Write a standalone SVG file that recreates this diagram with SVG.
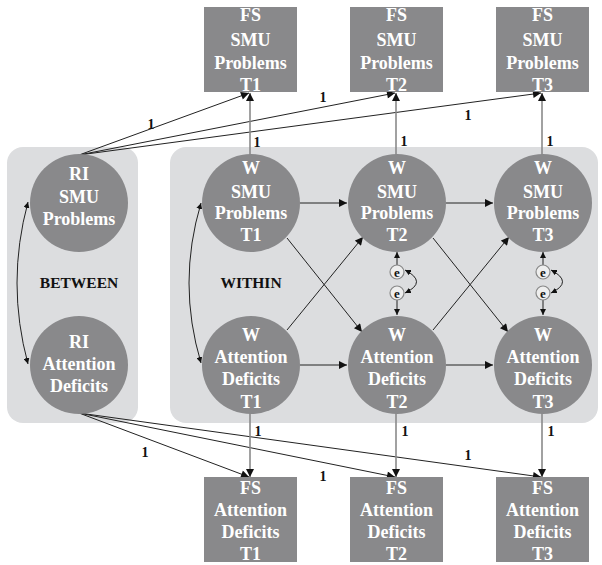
<svg xmlns="http://www.w3.org/2000/svg" width="602" height="565" viewBox="0 0 602 565">
<style>
.panel{fill:#dcdddf}
.node{fill:#89898b}
.t{font-family:"Liberation Serif",serif;font-weight:bold;font-size:18px;fill:#fff;text-anchor:middle}
.lab{font-family:"Liberation Serif",serif;font-weight:bold;font-size:14px;fill:#111;text-anchor:middle}
.big{font-family:"Liberation Serif",serif;font-weight:bold;font-size:15.5px;fill:#111;text-anchor:middle}
.c{fill:none;stroke:#222;stroke-width:1}
.g{fill:none;stroke:#8a8a8a;stroke-width:1.6}
.e{fill:#eeeeee;stroke:#888;stroke-width:1.2}
.et{font-family:"Liberation Serif",serif;font-weight:bold;font-size:13px;fill:#111;text-anchor:middle}
</style>
<defs>
<marker id="ah" viewBox="0 0 10 10" refX="10" refY="5" markerWidth="9" markerHeight="8" markerUnits="userSpaceOnUse" orient="auto-start-reverse">
<path d="M0,0 L10,5 L0,10 z" fill="#111"/>
</marker>
<marker id="as" viewBox="0 0 10 10" refX="10" refY="5" markerWidth="6" markerHeight="6" markerUnits="userSpaceOnUse" orient="auto-start-reverse">
<path d="M0,0 L10,5 L0,10 z" fill="#111"/>
</marker>
</defs>

<g id="panels">
<rect id="between" class="panel" x="7" y="147" width="131" height="276" rx="16"/>
<rect id="within" class="panel" x="170" y="147" width="428" height="276" rx="16"/>
</g>

<g id="connectors">
<!-- RI SMU to FS SMU -->
<line class="c" x1="79" y1="155" x2="249" y2="93" marker-end="url(#ah)"/>
<line class="c" x1="79" y1="155" x2="395" y2="93" marker-end="url(#ah)"/>
<line class="c" x1="79" y1="155" x2="541" y2="93" marker-end="url(#ah)"/>
<!-- RI Attention to FS Attention -->
<line class="c" x1="79" y1="413" x2="249" y2="477" marker-end="url(#ah)"/>
<line class="c" x1="79" y1="413" x2="395" y2="477" marker-end="url(#ah)"/>
<line class="c" x1="79" y1="413" x2="541" y2="477" marker-end="url(#ah)"/>
<!-- W to FS vertical -->
<line class="g" x1="250" y1="155" x2="250" y2="93" marker-end="url(#ah)"/>
<line class="g" x1="396" y1="155" x2="396" y2="93" marker-end="url(#ah)"/>
<line class="g" x1="542" y1="155" x2="542" y2="93" marker-end="url(#ah)"/>
<line class="g" x1="250" y1="413" x2="250" y2="477" marker-end="url(#ah)"/>
<line class="g" x1="396" y1="413" x2="396" y2="477" marker-end="url(#ah)"/>
<line class="g" x1="542" y1="413" x2="542" y2="477" marker-end="url(#ah)"/>
<!-- horizontal autoregressive -->
<line class="c" x1="300" y1="203" x2="347" y2="203" marker-end="url(#ah)"/>
<line class="c" x1="446" y1="203" x2="493" y2="203" marker-end="url(#ah)"/>
<line class="c" x1="300" y1="365" x2="347" y2="365" marker-end="url(#ah)"/>
<line class="c" x1="446" y1="365" x2="493" y2="365" marker-end="url(#ah)"/>
<!-- cross-lagged -->
<line class="c" x1="287" y1="238" x2="362" y2="332" marker-end="url(#ah)"/>
<line class="c" x1="287" y1="330" x2="363" y2="237" marker-end="url(#ah)"/>
<line class="c" x1="433" y1="238" x2="508" y2="332" marker-end="url(#ah)"/>
<line class="c" x1="433" y1="330" x2="509" y2="237" marker-end="url(#ah)"/>
<!-- covariances -->
<path class="c" d="M28,202 Q6,283 28,364" marker-start="url(#as)" marker-end="url(#as)"/>
<path class="c" d="M201,203 Q177,283 201,363" marker-start="url(#as)" marker-end="url(#as)"/>
<!-- residuals -->
<line class="c" x1="397" y1="265" x2="397" y2="252" marker-end="url(#as)"/>
<line class="c" x1="397" y1="300" x2="397" y2="315" marker-end="url(#as)"/>
<path class="c" d="M405,270 Q428,282 405,293" marker-start="url(#as)" marker-end="url(#as)"/>
<line class="c" x1="543" y1="265" x2="543" y2="252" marker-end="url(#as)"/>
<line class="c" x1="543" y1="300" x2="543" y2="315" marker-end="url(#as)"/>
<path class="c" d="M551,270 Q574,282 551,293" marker-start="url(#as)" marker-end="url(#as)"/>
</g>

<g id="loading-labels">
<text class="lab" x="151" y="129">1</text>
<text class="lab" x="323" y="102">1</text>
<text class="lab" x="468" y="120">1</text>
<text class="lab" x="257" y="147">1</text>
<text class="lab" x="404" y="146">1</text>
<text class="lab" x="550" y="146">1</text>
<text class="lab" x="145" y="457">1</text>
<text class="lab" x="323" y="481">1</text>
<text class="lab" x="468" y="460">1</text>
<text class="lab" x="258" y="436">1</text>
<text class="lab" x="405" y="436">1</text>
<text class="lab" x="551" y="436">1</text>
</g>

<g id="section-labels">
<text class="big" x="79" y="288">BETWEEN</text>
<text class="big" x="251" y="288">WITHIN</text>
</g>

<g id="fs-smu-t1"><rect class="node" x="204" y="7" width="93" height="85"/><text class="t" x="250.5" y="21">FS</text><text class="t" x="250.5" y="46">SMU</text><text class="t" x="250.5" y="69">Problems</text><text class="t" x="250.5" y="91">T1</text></g>
<g id="fs-smu-t2"><rect class="node" x="350" y="7" width="93" height="85"/><text class="t" x="396.5" y="21">FS</text><text class="t" x="396.5" y="46">SMU</text><text class="t" x="396.5" y="69">Problems</text><text class="t" x="396.5" y="91">T2</text></g>
<g id="fs-smu-t3"><rect class="node" x="496" y="7" width="93" height="85"/><text class="t" x="542.5" y="21">FS</text><text class="t" x="542.5" y="46">SMU</text><text class="t" x="542.5" y="69">Problems</text><text class="t" x="542.5" y="91">T3</text></g>

<g id="fs-att-t1"><rect class="node" x="204" y="477" width="93" height="85"/><text class="t" x="250.5" y="494">FS</text><text class="t" x="250.5" y="516">Attention</text><text class="t" x="250.5" y="538">Deficits</text><text class="t" x="250.5" y="560">T1</text></g>
<g id="fs-att-t2"><rect class="node" x="350" y="477" width="93" height="85"/><text class="t" x="396.5" y="494">FS</text><text class="t" x="396.5" y="516">Attention</text><text class="t" x="396.5" y="538">Deficits</text><text class="t" x="396.5" y="560">T2</text></g>
<g id="fs-att-t3"><rect class="node" x="496" y="477" width="93" height="85"/><text class="t" x="542.5" y="494">FS</text><text class="t" x="542.5" y="516">Attention</text><text class="t" x="542.5" y="538">Deficits</text><text class="t" x="542.5" y="560">T3</text></g>

<g id="ri-smu"><circle class="node" cx="79" cy="203" r="49"/><text class="t" x="79" y="180">RI</text><text class="t" x="79" y="203">SMU</text><text class="t" x="79" y="225">Problems</text></g>
<g id="ri-att"><circle class="node" cx="79" cy="365" r="49"/><text class="t" x="79" y="348">RI</text><text class="t" x="79" y="370">Attention</text><text class="t" x="79" y="392">Deficits</text></g>

<g id="w-smu-t1"><circle class="node" cx="251" cy="203" r="49"/><text class="t" x="251" y="174">W</text><text class="t" x="251" y="198">SMU</text><text class="t" x="251" y="219">Problems</text><text class="t" x="251" y="241">T1</text></g>
<g id="w-smu-t2"><circle class="node" cx="397" cy="203" r="49"/><text class="t" x="397" y="174">W</text><text class="t" x="397" y="198">SMU</text><text class="t" x="397" y="219">Problems</text><text class="t" x="397" y="241">T2</text></g>
<g id="w-smu-t3"><circle class="node" cx="543" cy="203" r="49"/><text class="t" x="543" y="174">W</text><text class="t" x="543" y="198">SMU</text><text class="t" x="543" y="219">Problems</text><text class="t" x="543" y="241">T3</text></g>

<g id="w-att-t1"><circle class="node" cx="251" cy="365" r="49"/><text class="t" x="251" y="341">W</text><text class="t" x="251" y="363">Attention</text><text class="t" x="251" y="385">Deficits</text><text class="t" x="251" y="408">T1</text></g>
<g id="w-att-t2"><circle class="node" cx="397" cy="365" r="49"/><text class="t" x="397" y="341">W</text><text class="t" x="397" y="363">Attention</text><text class="t" x="397" y="385">Deficits</text><text class="t" x="397" y="408">T2</text></g>
<g id="w-att-t3"><circle class="node" cx="543" cy="365" r="49"/><text class="t" x="543" y="341">W</text><text class="t" x="543" y="363">Attention</text><text class="t" x="543" y="385">Deficits</text><text class="t" x="543" y="408">T3</text></g>

<g id="e-smu-t2"><circle class="e" cx="397" cy="272" r="7"/><text class="et" x="397" y="276.5">e</text></g>
<g id="e-att-t2"><circle class="e" cx="397" cy="293" r="7"/><text class="et" x="397" y="297.5">e</text></g>
<g id="e-smu-t3"><circle class="e" cx="543" cy="272" r="7"/><text class="et" x="543" y="276.5">e</text></g>
<g id="e-att-t3"><circle class="e" cx="543" cy="293" r="7"/><text class="et" x="543" y="297.5">e</text></g>
</svg>
